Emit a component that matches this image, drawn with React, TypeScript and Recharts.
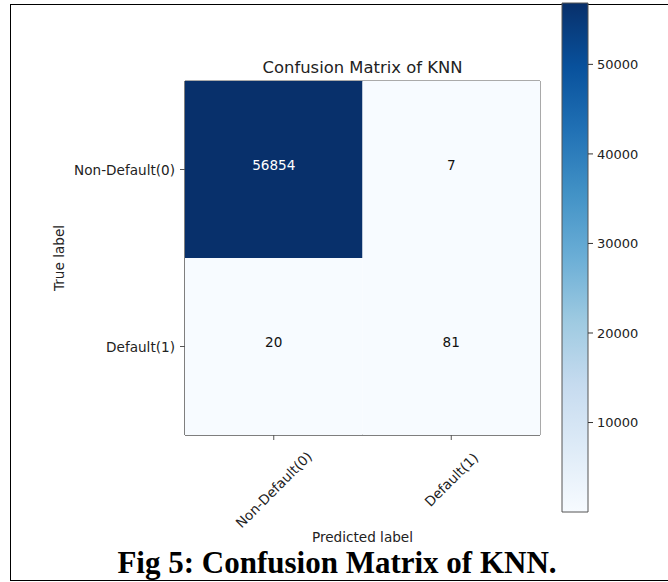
import React from 'react';
import { ScatterChart, Scatter, XAxis, YAxis, BarChart, Bar, ReferenceArea } from 'recharts';

// confusion matrix of KNN
const predictedLabels = ['Non-Default(0)', 'Default(1)'];
const trueLabels = ['Non-Default(0)', 'Default(1)'];
const rowNonDefault = [56854, 7];
const rowDefault = [20, 81];
const colorbarTicks = [10000, 20000, 30000, 40000, 50000];

const matrix = [rowNonDefault, rowDefault];
const cells = matrix.flatMap((row, r) => row.map((value, c) => ({ col: c, row: r, value })));
const vMin = Math.min(...matrix.flat());
const vMax = Math.max(...matrix.flat());

const W = 668;
const H = 582;
const PLOT = { left: 185, right: 540, top: 81, bottom: 435 };
const FONT = '"DejaVu Sans", sans-serif';

// matplotlib "Blues"
const BLUES = ['#f7fbff', '#deebf7', '#c6dbef', '#9ecae1', '#6baed6', '#4292c6', '#2171b5', '#08519c', '#08306b'];

function hexToRgb(h: string) {
  const n = parseInt(h.slice(1), 16);
  return [(n >> 16) & 255, (n >> 8) & 255, n & 255];
}

function bluesColor(t: number) {
  const p = Math.max(0, Math.min(1, t)) * (BLUES.length - 1);
  const i = Math.min(Math.floor(p), BLUES.length - 2);
  const f = p - i;
  const a = hexToRgb(BLUES[i]);
  const b = hexToRgb(BLUES[i + 1]);
  const m = a.map((v, k) => Math.round(v + (b[k] - v) * f));
  return `rgb(${m[0]},${m[1]},${m[2]})`;
}

const CellShape = (props: any) => {
  const { cx, cy, payload } = props;
  const w = (PLOT.right - PLOT.left) / predictedLabels.length;
  const h = (PLOT.bottom - PLOT.top) / trueLabels.length;
  const t = (payload.value - vMin) / (vMax - vMin);
  return (
    <g>
      <rect x={cx - w / 2} y={cy - h / 2} width={w} height={h} fill={bluesColor(t)} />
      <text
        x={cx}
        y={cy}
        textAnchor="middle"
        fontSize={13.6}
        fontFamily={FONT}
        fill={t > 0.5 ? '#ffffff' : '#111111'}
      >
        {payload.value}
      </text>
    </g>
  );
};

const YTick = (props: any) => {
  const { x, y, payload } = props;
  return (
    <text x={x} y={y} dy={5} textAnchor="end" fontSize={13.6} fontFamily={FONT} fill="#222">
      {trueLabels[payload.value]}
    </text>
  );
};

const XTick = (props: any) => {
  const { x, y, payload } = props;
  const label = predictedLabels[payload.value];
  const w = label.length * 0.52 * 13.6;
  const boxH = (w + 13) * Math.SQRT1_2;
  const cy = y + boxH / 2;
  return (
    <text
      x={x}
      y={cy}
      textAnchor="middle"
      dominantBaseline="central"
      fontSize={13.6}
      fontFamily={FONT}
      fill="#222"
      transform={`rotate(-45 ${x} ${cy})`}
    >
      {label}
    </text>
  );
};

export default function App() {
  return (
    <div style={{ position: 'absolute', left: 0, top: 0, width: W, height: H, overflow: 'hidden', background: '#fff' }}>
      <div
        style={{ position: 'absolute', left: 10, top: 4, width: 700, height: 575, border: '1px solid #000' }}
      />
      <div style={{ position: 'absolute', left: 0, top: 0 }}>
        <ScatterChart
          width={W}
          height={H}
          margin={{ top: PLOT.top, right: W - PLOT.right, bottom: 28, left: 45 }}
        >
          <XAxis
            type="number"
            dataKey="col"
            domain={[-0.5, 1.5]}
            ticks={[0, 1]}
            height={H - PLOT.bottom - 28}
            tickSize={5}
            tickMargin={10}
            stroke="#555"
            tick={<XTick />}
            label={{
              content: (p: any) => (
                <g>
                  <text
                    x={p.viewBox.x + p.viewBox.width / 2}
                    y={PLOT.bottom + 107}
                    textAnchor="middle"
                    fontSize={13.6}
                    fontFamily={FONT}
                    fill="#222"
                  >
                    Predicted label
                  </text>
                  <text
                    x={p.viewBox.x + p.viewBox.width / 2}
                    y={PLOT.top - 8}
                    textAnchor="middle"
                    fontSize={16.4}
                    fontFamily={FONT}
                    fill="#222"
                  >
                    Confusion Matrix of KNN
                  </text>
                </g>
              ),
            }}
          />
          <YAxis
            type="number"
            dataKey="row"
            domain={[-0.5, 1.5]}
            ticks={[0, 1]}
            reversed
            width={PLOT.left - 45}
            tickSize={5}
            tickMargin={5}
            stroke="#555"
            tick={<YTick />}
            label={{
              content: (p: any) => {
                const cy = p.viewBox.y + p.viewBox.height / 2;
                return (
                  <text
                    x={59}
                    y={cy}
                    textAnchor="middle"
                    dominantBaseline="central"
                    fontSize={13.6}
                    fontFamily={FONT}
                    fill="#222"
                    transform={`rotate(-90 59 ${cy})`}
                  >
                    True label
                  </text>
                );
              },
            }}
          />
          <Scatter data={cells} shape={<CellShape />} isAnimationActive={false} />
          <ReferenceArea x1={-0.5} x2={1.5} y1={-0.5} y2={1.5} fill="none" fillOpacity={0} stroke="#555" strokeWidth={1} />
        </ScatterChart>
      </div>
      <div style={{ position: 'absolute', left: 0, top: 0 }}>
        <BarChart
          width={W}
          height={H}
          data={[{ name: 'scale', range: [vMin, vMax] }]}
          margin={{ top: 3, right: 0, bottom: H - 512, left: 562 }}
          barCategoryGap={0}
        >
          <defs>
            <linearGradient id="bluesGrad" x1="0" y1="1" x2="0" y2="0">
              {BLUES.map((c, i) => (
                <stop key={c} offset={`${(i / (BLUES.length - 1)) * 100}%`} stopColor={c} />
              ))}
            </linearGradient>
          </defs>
          <XAxis dataKey="name" hide />
          <YAxis
            orientation="right"
            type="number"
            domain={[vMin, vMax]}
            ticks={colorbarTicks}
            width={W - 588}
            axisLine={false}
            tickSize={5}
            tickMargin={4}
            tickLine={{ stroke: '#333' }}
            tick={{ fill: '#222', fontSize: 13, fontFamily: FONT }}
          />
          <Bar dataKey="range" fill="url(#bluesGrad)" stroke="#555" strokeWidth={1} isAnimationActive={false} />
        </BarChart>
      </div>
      <div
        style={{
          position: 'absolute',
          left: 0,
          top: 547,
          width: 674,
          textAlign: 'center',
          fontFamily: '"Liberation Serif", "Times New Roman", serif',
          fontWeight: 'bold',
          fontSize: 31,
          lineHeight: '31px',
          color: '#000',
        }}
      >
        Fig 5: Confusion Matrix of KNN.
      </div>
    </div>
  );
}
